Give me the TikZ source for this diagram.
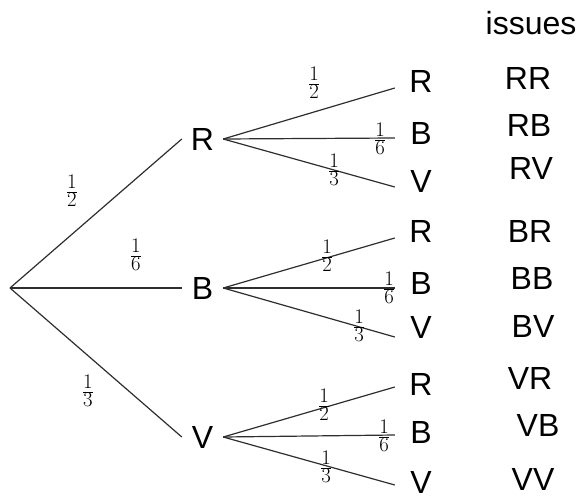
\documentclass[tikz,border=0pt]{standalone}
\usepackage{fontspec}
\setmainfont{Liberation Sans}
\begin{document}
\begin{tikzpicture}[x=1pt,y=-1pt,
  lbl/.style={font=\fontsize{32}{36}\selectfont, inner sep=0pt},
  midnode/.style={lbl, minimum width=41pt},
  leaf/.style={lbl, minimum width=52pt},
  prob/.style={font=\fontsize{28}{32}\selectfont, inner sep=0pt},
  br/.style={line width=1.2pt, draw=black!82}]
\useasboundingbox (0,0) rectangle (580,495);
% root
\coordinate (O) at (10,288);
% first level
\node[midnode] (R) at (202.5,139) {R};
\node[midnode] (B) at (202.5,288) {B};
\node[midnode] (V) at (202.5,437) {V};
% leaves
\node[leaf] (RR) at (421,81) {R};
\node[leaf] (RB) at (421,133) {B};
\node[leaf] (RV) at (421,181) {V};
\node[leaf] (BR) at (421,231) {R};
\node[leaf] (BB) at (421,283) {B};
\node[leaf] (BV) at (421,327) {V};
\node[leaf] (VR) at (421,384) {R};
\node[leaf] (VB) at (421,432) {B};
\node[leaf] (VV) at (421,482) {V};
% branches
\draw[br] (O) -- (R.west);
\draw[br] (O) -- (B.west);
\draw[br] (O) -- (V.west);
\draw[br] (R.east) -- ([yshift=-7pt]RR.west);
\draw[br] (R.east) -- ([yshift=-5pt]RB.west);
\draw[br] (R.east) -- ([yshift=-6pt]RV.west);
\draw[br] (B.east) -- ([yshift=-7pt]BR.west);
\draw[br] (B.east) -- ([yshift=-5pt]BB.west);
\draw[br] (B.east) -- ([yshift=-10pt]BV.west);
\draw[br] (V.east) -- ([yshift=-3pt]VR.west);
\draw[br] (V.east) -- ([yshift=-3pt]VB.west);
\draw[br] (V.east) -- ([yshift=-3pt]VV.west);
% probabilities
\node[prob] (p1) at (72,191) {$\frac{1}{2}$};
\node[prob] (p2) at (136,255) {$\frac{1}{6}$};
\node[prob] (p3) at (88,391) {$\frac{1}{3}$};
\node[prob] (pRR) at (314,83) {$\frac{1}{2}$};
\node[prob] (pRB) at (380,139) {$\frac{1}{6}$};
\node[prob] (pRV) at (334,170) {$\frac{1}{3}$};
\node[prob] (pBR) at (327,256) {$\frac{1}{2}$};
\node[prob] (pBB) at (389,288) {$\frac{1}{6}$};
\node[prob] (pBV) at (359,326) {$\frac{1}{3}$};
\node[prob] (pVR) at (324,405) {$\frac{1}{2}$};
\node[prob] (pVB) at (384,436) {$\frac{1}{6}$};
\node[prob] (pVV) at (326,467) {$\frac{1}{3}$};
% outcomes
\node[lbl, anchor=base] (iss) at (531,35) {issues};
\node[lbl] (oRR) at (528,78) {RR};
\node[lbl] (oRB) at (529,125) {RB};
\node[lbl] (oRV) at (531,168) {RV};
\node[lbl] (oBR) at (530,231) {BR};
\node[lbl] (oBB) at (532,278) {BB};
\node[lbl] (oBV) at (533,326) {BV};
\node[lbl] (oVR) at (530,378) {VR};
\node[lbl] (oVB) at (538,425) {VB};
\node[lbl] (oVV) at (533,479) {VV};
\end{tikzpicture}
\end{document}
